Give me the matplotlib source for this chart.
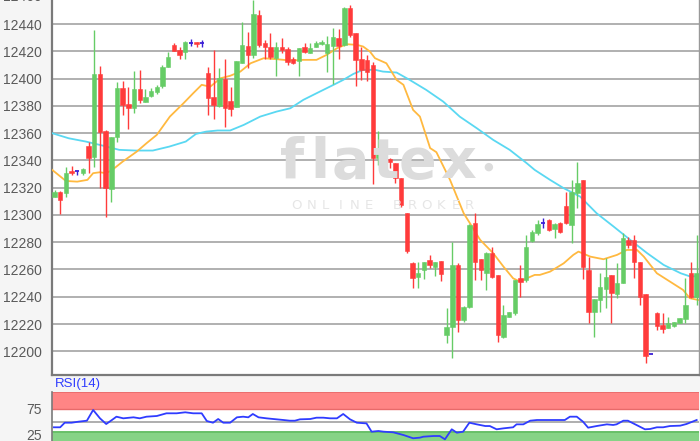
import matplotlib
matplotlib.use("Agg")
import matplotlib.pyplot as plt
import matplotlib.transforms as mtransforms

# ---------------- data ----------------
opens = [12313.5, 12317, 12316.4, 12332, 12332, 12331, 12350.6, 12342.8, 12403.4, 12361.6,
         12318.8, 12357.5, 12393, 12381.4, 12378.2, 12392.2, 12383.1, 12387.5, 12390, 12394.6,
         12408.8, 12424.7, 12421, 12419.8, 12426.4, 12426.6, 12426.4, 12404.4, 12386.8, 12379.8,
         12399.8, 12383.9, 12379.5, 12411.7, 12424, 12417.4, 12446.7, 12425.9, 12423.5, 12414.9,
         12423.5, 12421.5, 12414.2, 12413.2, 12423.5, 12419.1, 12423.5, 12425.2, 12418.6, 12424,
         12430.1, 12424.5, 12451.6, 12433.3, 12414.2, 12413.7, 12410, 12341.6, 12347.7, 12340.8,
         12337.9, 12326.9, 12301.2, 12265, 12254.8, 12259.7, 12267, 12262.1, 12266.5, 12212,
         12218, 12263.3, 12223, 12232.8, 12293.9, 12267.5, 12257.2, 12271.9, 12256, 12210.8,
         12225.4, 12227.9, 12253.5, 12252.3, 12281.2, 12286.6, 12294.4, 12296.3, 12289.7, 12294.4,
         12306.6, 12292.7, 12315.9, 12325.7, 12259.7, 12229.1, 12237.7, 12245.5, 12256, 12242,
         12249.9, 12281.7, 12281.7, 12265.8, 12242, 12198, 12228.4, 12219.3, 12216.9, 12218.6,
         12221, 12223.5, 12257.7, 12240]
highs = [12318.3, 12317.5, 12335.4, 12336, 12332.5, 12334.7, 12353.8, 12435.7, 12409.3, 12362,
         12357, 12397.8, 12398.3, 12393.6, 12405.9, 12406.4, 12392.7, 12393, 12395.4, 12410,
         12419.8, 12425.9, 12423.5, 12427.9, 12428.8, 12427, 12428.5, 12408.8, 12421, 12407.6,
         12414.2, 12393.6, 12413, 12441.8, 12434.5, 12457.7, 12450, 12428.4, 12433.3, 12427.1,
         12429.6, 12423.5, 12416.1, 12422.2, 12425.9, 12426.4, 12427.9, 12428, 12431, 12436.9,
         12436.2, 12452.8, 12454, 12433.3, 12423.5, 12417.4, 12412, 12361.9, 12347.7, 12341.6,
         12337.9, 12326.9, 12301.2, 12265.8, 12265.8, 12265.8, 12270.7, 12265.8, 12266.5, 12231.5,
         12280.4, 12265, 12233, 12293, 12301.2, 12267.5, 12273, 12276.8, 12256, 12234,
         12229, 12252.3, 12263.3, 12285.3, 12289, 12296.3, 12297.6, 12296.8, 12293.9, 12295.1,
         12317.1, 12325.7, 12339.1, 12325.7, 12269.4, 12238.1, 12257.2, 12268.2, 12256, 12264.5,
         12286.6, 12283.6, 12285.3, 12265.8, 12242, 12198, 12229.1, 12227.9, 12225.4, 12221.8,
         12224.5, 12253.5, 12265.8, 12285.3]
lows = [12313, 12301, 12313, 12329, 12329, 12329, 12330.5, 12335.5, 12319.5, 12298.8,
        12309.8, 12353.8, 12373.3, 12363, 12374.6, 12382, 12383, 12386.8, 12389, 12393,
        12408.8, 12420.5, 12414, 12414, 12424.2, 12423.5, 12423.5, 12373.3, 12370, 12379.5,
        12364.3, 12372.6, 12379.5, 12411.7, 12407.6, 12414.9, 12423.5, 12414.2, 12414.2, 12402,
        12418.6, 12410, 12410.8, 12402, 12418.6, 12418.6, 12423, 12424.7, 12405.1, 12396.1,
        12414.2, 12424, 12430.8, 12394.6, 12399, 12398.5, 12323, 12336.7, 12335.5, 12334.2,
        12323.2, 12306.1, 12271.9, 12246.2, 12246.2, 12252.8, 12260.9, 12255.3, 12251.8, 12205.9,
        12195, 12214.4, 12221.8, 12231.5, 12252.3, 12252.3, 12245, 12253.5, 12207.1, 12209.5,
        12225, 12226.7, 12240, 12251.1, 12280.4, 12285.3, 12290.2, 12288.5, 12282.9, 12286.6,
        12293.4, 12279.7, 12304.9, 12252.8, 12221, 12210.8, 12229.1, 12231.5, 12221, 12238.9,
        12249.9, 12275.6, 12253.5, 12234, 12191.7, 12198, 12215.6, 12213.2, 12216.9, 12218,
        12220.5, 12220.5, 12238.9, 12234]
closes = [12316.5, 12311, 12331, 12331, 12332, 12334, 12342, 12403.4, 12361, 12319.5,
          12357, 12393.4, 12380.7, 12378.2, 12392.2, 12384.3, 12386.8, 12391.2, 12393.6, 12408.3,
          12415.6, 12420.5, 12417.4, 12427.1, 12426.4, 12425.4, 12426.4, 12385.6, 12380.7, 12400.2,
          12378.2, 12377.5, 12413, 12424.7, 12417.4, 12447.4, 12424.7, 12423.5, 12415.6, 12423.5,
          12421, 12412.5, 12411.7, 12422.2, 12419.8, 12422.2, 12426.4, 12427.1, 12425.2, 12430.3,
          12424, 12451.6, 12432, 12413.7, 12406.4, 12405.1, 12341.6, 12347.7, 12340.3, 12339.1,
          12326.9, 12307.3, 12273.8, 12254, 12257.7, 12265.8, 12263.3, 12265.8, 12256.7, 12218.1,
          12263, 12223, 12232.8, 12292.7, 12265.8, 12259.7, 12271.9, 12254.8, 12212, 12226.7,
          12229, 12252.3, 12251, 12276.3, 12287.8, 12293.4, 12294.4, 12289, 12293.2, 12287.8,
          12293.9, 12317.1, 12323.7, 12262.1, 12229.1, 12238.1, 12246.9, 12254.8, 12242.5, 12250.4,
          12282.9, 12278, 12265.8, 12240.1, 12196.6, 12198, 12218.6, 12216.1, 12221, 12221.8,
          12224.2, 12234, 12239.6, 12257.2]

# fast moving average (orange), sampled at candle positions
ma_fast_x = [-0.4, 2, 4, 5.8, 6.8, 8, 9, 10, 12, 14.5, 16.2, 18, 20.3, 22.7, 24.4, 25.9, 27.4,
             29.2, 30.9, 32.7, 34.5, 36.8, 39.1, 41.5, 43.8, 46.1, 47.9, 49.7, 51.4, 53.2, 54.3,
             55.5, 56.4, 58.4, 60.2, 61.4, 63.1, 64.3, 66.1, 67.2, 69.6, 72, 73.1, 74.9, 77.2, 79,
             80.7, 81.9, 83.1, 84.5, 85.4, 87.2, 89.6, 91.3, 92.2, 94.3, 96.6, 99, 100.7, 102.5,
             103.7, 106, 108.3, 110.6, 111.8, 113.4]
ma_fast = [12333.0, 12324.9, 12324.4, 12325.7, 12330.6, 12331.3, 12330.6, 12332.5, 12339.1,
           12346.5, 12352.6, 12358.7, 12372.1, 12381.9, 12389.2, 12395.4, 12394.0, 12400.2,
           12402.0, 12405.1, 12411.2, 12414.9, 12414.2, 12413.2, 12413.7, 12413.7, 12417.4,
           12422.2, 12425.2, 12424.7, 12423.5, 12419.8, 12414.9, 12411.2, 12399.0, 12395.4,
           12377.0, 12372.1, 12349.0, 12346.0, 12325.7, 12301.2, 12293.9, 12281.7, 12271.9,
           12262.1, 12253.5, 12251.1, 12253.5, 12256.0, 12256.0, 12258.4, 12264.5, 12270.7,
           12273.1, 12269.4, 12267.5, 12270.7, 12274.3, 12274.3, 12269.4, 12257.2, 12251.1,
           12245.0, 12238.9, 12237.5]

# slow moving average (light blue)
ma_slow_x = [-0.4, 2.5, 5.5, 8.4, 11.4, 14.3, 17.3, 20.2, 23.1, 24.9, 26.7, 28.7, 30.9, 33.3,
             36.2, 39.1, 41.5, 43.8, 46.1, 49.1, 50.8, 52.6, 54.3, 56.4, 57.8, 60.2, 62.5, 65.4,
             68.4, 71.3, 74.3, 77.2, 80.1, 83.1, 84.5, 87.2, 89.6, 92.5, 95.4, 98.4, 101.3, 104.3,
             107.2, 110.2, 111.9, 113.4]
ma_slow = [12359.9, 12356.2, 12353.8, 12350.9, 12347.7, 12347.2, 12347.2, 12350.1, 12353.8,
           12359.4, 12361.1, 12361.9, 12361.9, 12366.0, 12372.1, 12375.8, 12378.2, 12384.4,
           12389.2, 12395.4, 12399.0, 12403.4, 12406.4, 12406.4, 12405.1, 12404.4, 12399.0,
           12391.7, 12383.1, 12372.1, 12363.6, 12355.0, 12347.7, 12337.9, 12333.0, 12325.7,
           12319.6, 12313.4, 12301.2, 12291.4, 12281.7, 12271.9, 12263.3, 12257.2, 12254.8,
           12255.3]

# RSI(14)
rsi_x = [-0.1, 1.0, 1.8, 3.0, 4.2, 5.7, 6.8, 8.0, 9.1, 10.1, 10.9, 12.1, 13.9, 15.0, 16.2, 18.0,
         19.7, 21.5, 23.0, 24.4, 25.9, 26.8, 27.9, 28.8, 29.7, 30.9, 32.1, 33.2, 34.1, 34.9, 35.9,
         37.3, 38.5, 40.3, 41.4, 42.3, 43.2, 45.0, 46.1, 47.3, 48.5, 49.7, 50.8, 52.0, 53.2, 54.9,
         55.8, 57.0, 57.9, 59.6, 61.4, 63.1, 64.3, 64.9, 66.7, 67.8, 68.7, 69.9, 70.8, 71.9, 73.0,
         74.3, 75.8, 76.6, 77.8, 79.0, 80.7, 81.3, 82.5, 83.7, 84.9, 86.6, 88.4, 89.8, 90.7, 91.9,
         93.0, 93.9, 95.4, 97.2, 98.3, 98.9, 100.1, 100.9, 102.4, 103.9, 104.8, 106.0, 107.1,
         108.3, 110.1, 111.2, 113.0]
rsi = [39.4, 39.4, 48.1, 48.1, 50.0, 51.9, 72.2, 56.4, 45.6, 53.2, 59.5, 56.4, 58.3, 56.4, 59.5,
       60.8, 65.9, 65.9, 67.8, 65.9, 65.9, 51.3, 48.1, 55.1, 48.1, 48.1, 58.3, 59.5, 58.3, 64.6,
       58.3, 56.4, 55.1, 53.2, 51.9, 51.9, 54.5, 55.1, 57.6, 57.6, 56.4, 56.4, 64.6, 54.5, 48.1,
       46.8, 31.1, 32.4, 31.1, 29.9, 24.8, 18.6, 19.8, 21.6, 22.9, 22.9, 16.6, 35.6, 29.2, 31.1,
       48.1, 45.0, 41.8, 41.8, 35.6, 37.4, 39.4, 45.0, 45.0, 51.9, 53.2, 53.2, 53.2, 53.2, 59.5,
       59.5, 50.0, 38.7, 41.8, 45.0, 43.8, 45.0, 51.9, 51.9, 43.8, 35.6, 36.2, 39.4, 39.4, 41.8,
       42.5, 45.6, 53.2]

price_ticks = [12200, 12220, 12240, 12260, 12280, 12300, 12320, 12340, 12360, 12380, 12400,
               12420, 12440, 12460]
rsi_ticks = [25, 75]
rsi_mid = 50
rsi_upper = 74
rsi_lower = 31
rsi_title = "RSI(14)"
watermark = "flatex"
watermark_sub = "ONLINE BROKER"

# ---------------- styling ----------------
W, H = 700, 441
GREEN = "#66cc66"
RED = "#ff3b3b"
DOJI = "#3b1fd6"
ORANGE = "#ffb940"
CYAN = "#5ad8f2"
GRID = "#b0b0b0"
SPINE = "#7a7a7a"
LABEL = "#5a5a5a"
FONT = ["Liberation Sans", "DejaVu Sans"]

fig = plt.figure(figsize=(W / 100, H / 100), dpi=100, facecolor="#f5f5f5")

# main price axes
ax = fig.add_axes([52 / W, 1 - 375 / H, (699 - 52) / W, 375 / H])
ax.set_facecolor("white")
ax.set_xlim(-0.44, 113.41)
ax.set_ylim(12182.6, 12457.6)

for t in price_ticks:
    ax.axhline(t, color=GRID, lw=1.4, zorder=1)

ax.set_yticks([t for t in price_ticks if t < 12457])
ax.set_yticklabels([str(t) for t in price_ticks if t < 12457])
ax.tick_params(axis="y", length=0, pad=7.5, labelsize=10, labelcolor=LABEL)
for lab in ax.get_yticklabels():
    lab.set_family(FONT)
ax.set_xticks([])
ax.annotate(str(price_ticks[-1]), xy=(0, price_ticks[-1]), xycoords=ax.get_yaxis_transform(),
            xytext=(-7.5, 0), textcoords="offset points", ha="right", va="center",
            fontsize=10, color=LABEL, family=FONT, annotation_clip=False)

for side in ["top"]:
    ax.spines[side].set_visible(False)
ax.spines["left"].set_color(SPINE)
ax.spines["left"].set_linewidth(1.6)
ax.spines["bottom"].set_color(SPINE)
ax.spines["bottom"].set_linewidth(1.6)
ax.spines["right"].set_color("#999999")
ax.spines["right"].set_linewidth(1.0)

# watermark
letter_x = [292, 320, 350, 386, 417, 458]
for ch, px in zip(watermark, letter_x):
    fig.text(px / W, 1 - 163 / H, ch, fontsize=40, fontweight="bold", color="#dcdcdc",
             ha="center", va="center", family=["DejaVu Sans"], zorder=0)
fig.text(488 / W, 1 - 167 / H, "\u25cf", fontsize=8, color="#dcdcdc", ha="center",
         va="center", zorder=0)
step = 14.4
start = 297
for k, ch in enumerate(watermark_sub):
    fig.text((start + k * step) / W, 1 - 206 / H, ch, fontsize=9.5, color="#e6e6e6",
             ha="center", va="center", family=["DejaVu Sans"], zorder=0)

# moving averages
ax.plot(ma_slow_x, ma_slow, color=CYAN, lw=1.3, zorder=3)
ax.plot(ma_fast_x, ma_fast, color=ORANGE, lw=1.3, zorder=3)

# candles
bw = 0.78
for i, (o, h, l, c) in enumerate(zip(opens, highs, lows, closes)):
    if abs(c - o) < 0.05:
        ax.vlines(i, l, h, color=DOJI, lw=1.0, zorder=5)
        ax.hlines(o, i - bw / 2, i + bw / 2, color=DOJI, lw=1.3, zorder=5)
        continue
    col = GREEN if c > o else RED
    ax.vlines(i, l, h, color=col, lw=1.0, zorder=4)
    lo = min(o, c)
    hgt = max(abs(c - o), 0.8)
    ax.bar(i, hgt, bottom=lo, width=bw, color=col, edgecolor=col, lw=0.4, zorder=5)

# RSI axes
y_top = 50 + (421.7 - 392) / 0.528
y_bot = 50 - (441 - 421.7) / 0.528
rax = fig.add_axes([52 / W, 0, (699 - 52) / W, 49 / H])
rax.set_facecolor("white")
rax.set_xlim(-0.44, 113.41)
rax.set_ylim(y_bot, y_top)
rax.axhspan(rsi_upper, y_top, color="#ff8585", zorder=1, lw=0)
rax.axhline(rsi_upper, color="#e86a6a", lw=1.0, zorder=2)
rax.axhline(y_top - 0.8, color="#e86a6a", lw=1.2, zorder=2)
rax.axhspan(y_bot, rsi_lower, color="#86d386", zorder=1, lw=0)
rax.axhline(rsi_lower, color="#68c068", lw=1.4, zorder=2)
rax.axhline(rsi_mid, color="#a8a8a8", lw=1.3, zorder=2)
rax.plot(rsi_x, rsi, color="#2f3cff", lw=1.3, zorder=4)
rax.set_xticks([])
rax.set_yticks(rsi_ticks)
rax.set_yticklabels([str(t) for t in rsi_ticks])
rax.tick_params(axis="y", length=0, pad=7.5, labelsize=10, labelcolor=LABEL)
for lab in rax.get_yticklabels():
    lab.set_family(FONT)
for side in ["top", "right", "bottom"]:
    rax.spines[side].set_visible(False)
rax.spines["left"].set_color(SPINE)
rax.spines["left"].set_linewidth(1.2)

fig.text(55 / W, 1 - 384 / H, rsi_title, fontsize=9.5, color="#2f3cff", ha="left",
         va="center", family=FONT)

fig.savefig("out.png", dpi=100, facecolor=fig.get_facecolor())
